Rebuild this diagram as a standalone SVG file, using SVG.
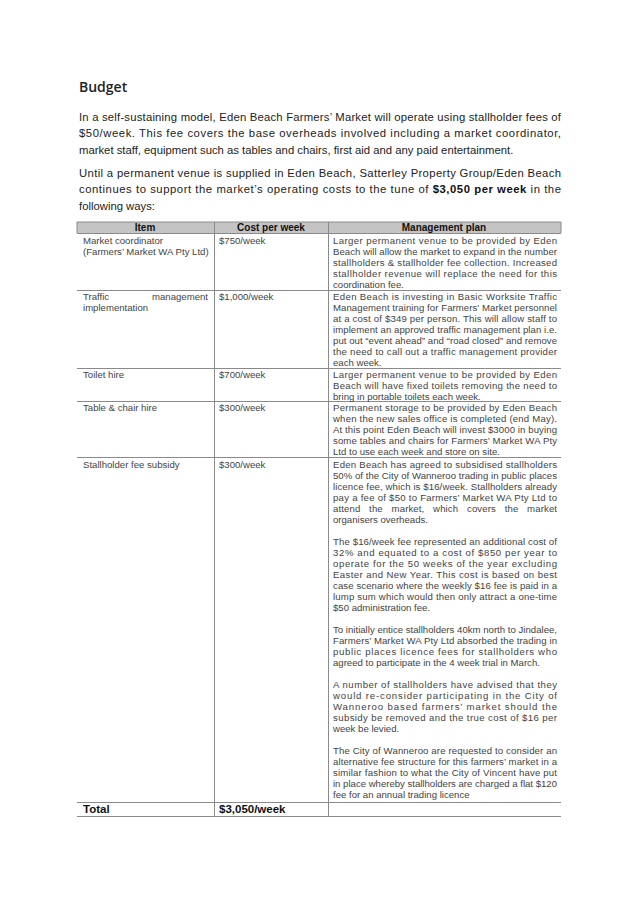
<svg xmlns="http://www.w3.org/2000/svg" width="638" height="900" viewBox="0 0 638 900">
<style>
.p{font-family:"Liberation Sans",Arial,sans-serif;font-size:11.3px;fill:#222}
.t{font-family:"Liberation Sans",Arial,sans-serif;font-size:9.6px;fill:#444}
.h{font-family:"Liberation Sans",Arial,sans-serif;font-size:10px;font-weight:bold;fill:#111;text-anchor:middle}
.b{font-family:"Liberation Sans",Arial,sans-serif;font-size:11.5px;font-weight:bold;fill:#111}
.l{stroke:#8a8a8a;stroke-width:1;fill:none}
</style>
<rect width="638" height="900" fill="#fff"/>
<g id="intro">
<text x="79" y="92" font-family="'Open Sans',sans-serif" font-size="14" font-weight="600" fill="#222">Budget</text>
<text class="p" x="79" y="121" textLength="482" lengthAdjust="spacing">In a self-sustaining model, Eden Beach Farmers’ Market will operate using stallholder fees of</text>
<text class="p" x="79" y="137" textLength="482" lengthAdjust="spacing">$50/week. This fee covers the base overheads involved including a market coordinator,</text>
<text class="p" x="79" y="154">market staff, equipment such as tables and chairs, first aid and any paid entertainment.</text>
<text class="p" x="79" y="177" textLength="482" lengthAdjust="spacing">Until a permanent venue is supplied in Eden Beach, Satterley Property Group/Eden Beach</text>
<text class="p" x="79" y="193" textLength="482" lengthAdjust="spacing">continues to support the market’s operating costs to the tune of <tspan font-weight="bold" fill="#111">$3,050 per week</tspan> in the</text>
<text class="p" x="79" y="210">following ways:</text>
</g>
<g id="table-lines">
<rect x="77" y="222" width="484" height="11" fill="#c4c4c4"/>
<path class="l" d="M77 222H561M77 233.5H561M77 290.5H561M77 368.5H561M77 401.5H561M77 457.5H561M77 802.5H561M77 816.5H561"/>
<path class="l" d="M77 222V233M561 222V233M214.5 222V816M328.5 222V816"/>
</g>
<g id="header">
<text class="h" x="145" y="231">Item</text>
<text class="h" x="271" y="231">Cost per week</text>
<text class="h" x="444" y="231">Management plan</text>
</g>
<g id="row1" class="t">
<text x="83" y="244">Market coordinator</text>
<text x="83" y="255">(Farmers’ Market WA Pty Ltd)</text>
<text x="219" y="244">$750/week</text>
<text x="333" y="244" textLength="224" lengthAdjust="spacing">Larger permanent venue to be provided by Eden</text>
<text x="333" y="255" textLength="224" lengthAdjust="spacing">Beach will allow the market to expand in the number</text>
<text x="333" y="266" textLength="224" lengthAdjust="spacing">stallholders &amp; stallholder fee collection. Increased</text>
<text x="333" y="277" textLength="224" lengthAdjust="spacing">stallholder revenue will replace the need for this</text>
<text x="333" y="288">coordination fee.</text>
</g>
<g id="row2" class="t">
<text x="83" y="300">Traffic</text>
<text x="208" y="300" text-anchor="end">management</text>
<text x="83" y="311">implementation</text>
<text x="219" y="300">$1,000/week</text>
<text x="333" y="300" textLength="224" lengthAdjust="spacing">Eden Beach is investing in Basic Worksite Traffic</text>
<text x="333" y="311" textLength="224" lengthAdjust="spacing">Management training for Farmers’ Market personnel</text>
<text x="333" y="322" textLength="224" lengthAdjust="spacing">at a cost of $349 per person. This will allow staff to</text>
<text x="333" y="333" textLength="224" lengthAdjust="spacing">implement an approved traffic management plan i.e.</text>
<text x="333" y="344" textLength="224" lengthAdjust="spacing">put out “event ahead” and “road closed” and remove</text>
<text x="333" y="355" textLength="224" lengthAdjust="spacing">the need to call out a traffic management provider</text>
<text x="333" y="366">each week.</text>
</g>
<g id="row3" class="t">
<text x="83" y="378">Toilet hire</text>
<text x="219" y="378">$700/week</text>
<text x="333" y="378" textLength="224" lengthAdjust="spacing">Larger permanent venue to be provided by Eden</text>
<text x="333" y="389" textLength="224" lengthAdjust="spacing">Beach will have fixed toilets removing the need to</text>
<text x="333" y="400">bring in portable toilets each week.</text>
</g>
<g id="row4" class="t">
<text x="83" y="411">Table &amp; chair hire</text>
<text x="219" y="411">$300/week</text>
<text x="333" y="411" textLength="224" lengthAdjust="spacing">Permanent storage to be provided by Eden Beach</text>
<text x="333" y="422" textLength="224" lengthAdjust="spacing">when the new sales office is completed (end May).</text>
<text x="333" y="433" textLength="224" lengthAdjust="spacing">At this point Eden Beach will invest $3000 in buying</text>
<text x="333" y="444" textLength="224" lengthAdjust="spacing">some tables and chairs for Farmers’ Market WA Pty</text>
<text x="333" y="455">Ltd to use each week and store on site.</text>
</g>
<g id="row5" class="t">
<text x="83" y="468">Stallholder fee subsidy</text>
<text x="219" y="468">$300/week</text>
<text x="333" y="468" textLength="224" lengthAdjust="spacing">Eden Beach has agreed to subsidised stallholders</text>
<text x="333" y="479" textLength="224" lengthAdjust="spacing">50% of the City of Wanneroo trading in public places</text>
<text x="333" y="490" textLength="224" lengthAdjust="spacing">licence fee, which is $16/week. Stallholders already</text>
<text x="333" y="501" textLength="224" lengthAdjust="spacing">pay a fee of $50 to Farmers’ Market WA Pty Ltd to</text>
<text x="333" y="512" textLength="224" lengthAdjust="spacing" word-spacing="6">attend the market, which covers the market</text>
<text x="333" y="523">organisers overheads.</text>
<text x="333" y="545" textLength="224" lengthAdjust="spacing">The $16/week fee represented an additional cost of</text>
<text x="333" y="556" textLength="224" lengthAdjust="spacing">32% and equated to a cost of $850 per year to</text>
<text x="333" y="567" textLength="224" lengthAdjust="spacing">operate for the 50 weeks of the year excluding</text>
<text x="333" y="578" textLength="224" lengthAdjust="spacing">Easter and New Year. This cost is based on best</text>
<text x="333" y="589" textLength="224" lengthAdjust="spacing">case scenario where the weekly $16 fee is paid in a</text>
<text x="333" y="600" textLength="224" lengthAdjust="spacing">lump sum which would then only attract a one-time</text>
<text x="333" y="611">$50 administration fee.</text>
<text x="333" y="633" textLength="224" lengthAdjust="spacing">To initially entice stallholders 40km north to Jindalee,</text>
<text x="333" y="644" textLength="224" lengthAdjust="spacing">Farmers’ Market WA Pty Ltd absorbed the trading in</text>
<text x="333" y="655" textLength="224" lengthAdjust="spacing">public places licence fees for stallholders who</text>
<text x="333" y="666">agreed to participate in the 4 week trial in March.</text>
<text x="333" y="688" textLength="224" lengthAdjust="spacing">A number of stallholders have advised that they</text>
<text x="333" y="699" textLength="224" lengthAdjust="spacing">would re-consider participating in the City of</text>
<text x="333" y="710" textLength="224" lengthAdjust="spacing">Wanneroo based farmers’ market should the</text>
<text x="333" y="721" textLength="224" lengthAdjust="spacing">subsidy be removed and the true cost of $16 per</text>
<text x="333" y="732">week be levied.</text>
<text x="333" y="754" textLength="224" lengthAdjust="spacing">The City of Wanneroo are requested to consider an</text>
<text x="333" y="765" textLength="224" lengthAdjust="spacing">alternative fee structure for this farmers’ market in a</text>
<text x="333" y="776" textLength="224" lengthAdjust="spacing">similar fashion to what the City of Vincent have put</text>
<text x="333" y="787" textLength="224" lengthAdjust="spacing">in place whereby stallholders are charged a flat $120</text>
<text x="333" y="798">fee for an annual trading licence</text>
</g>
<g id="total">
<text class="b" x="83" y="813">Total</text>
<text class="b" x="219" y="813">$3,050/week</text>
</g>
</svg>
